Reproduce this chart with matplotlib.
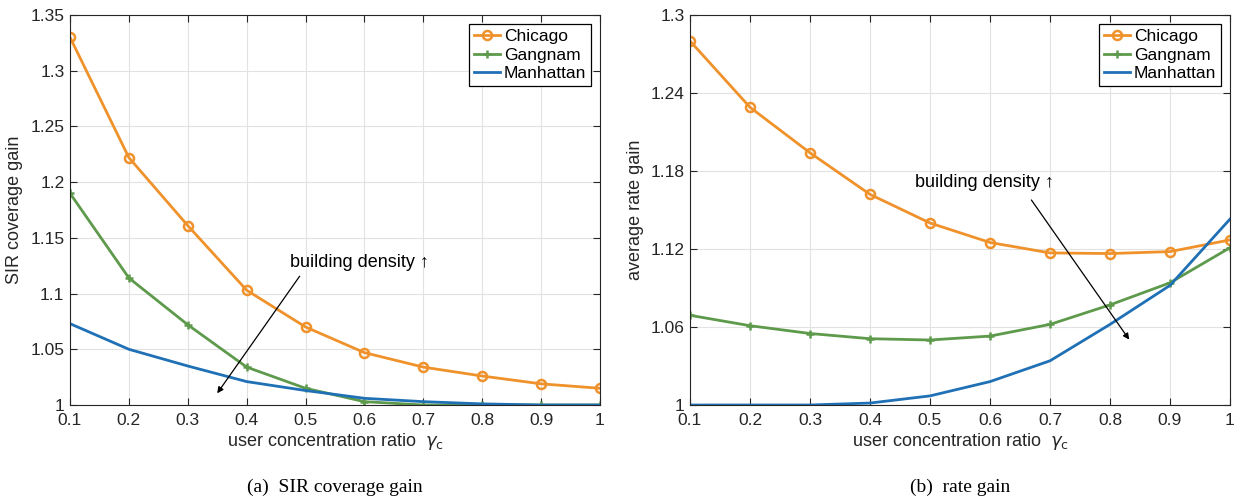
import numpy as np
import matplotlib
matplotlib.use("Agg")
import matplotlib.pyplot as plt

plt.rcParams['font.family'] = ['Liberation Sans', 'DejaVu Sans']

ratio = [0.1, 0.2, 0.3, 0.4, 0.5, 0.6, 0.7, 0.8, 0.9, 1.0]

# (a) SIR coverage gain
sir_chicago = [1.330, 1.222, 1.161, 1.103, 1.070, 1.047, 1.034, 1.026, 1.019, 1.015]
sir_gangnam = [1.190, 1.114, 1.072, 1.034, 1.015, 1.003, 1.000, 1.000, 1.000, 1.000]
sir_manhattan = [1.073, 1.050, 1.035, 1.021, 1.013, 1.006, 1.003, 1.001, 1.000, 1.000]

# (b) rate gain
rate_chicago = [1.280, 1.229, 1.194, 1.162, 1.140, 1.125, 1.117, 1.1165, 1.118, 1.127]
rate_gangnam = [1.069, 1.061, 1.055, 1.051, 1.050, 1.053, 1.062, 1.077, 1.094, 1.121]
rate_manhattan = [1.000, 1.000, 1.000, 1.0015, 1.007, 1.018, 1.034, 1.062, 1.092, 1.143]

sir_ticks = [1, 1.05, 1.1, 1.15, 1.2, 1.25, 1.3, 1.35]
sir_ticklabels = ['1', '1.05', '1.1', '1.15', '1.2', '1.25', '1.3', '1.35']
rate_ticks = [1, 1.06, 1.12, 1.18, 1.24, 1.3]
rate_ticklabels = ['1', '1.06', '1.12', '1.18', '1.24', '1.3']
x_ticklabels = ['0.1', '0.2', '0.3', '0.4', '0.5', '0.6', '0.7', '0.8', '0.9', '1']

c_orange = '#F0922B'
c_green = '#5E9A4C'
c_blue = '#1F70B5'

fig = plt.figure(figsize=(12.36, 4.98), dpi=100)
ax1 = fig.add_axes([70/1236, 1-405/498, 530/1236, 390/498])
ax2 = fig.add_axes([690/1236, 1-405/498, 540/1236, 390/498])


def style(ax, yticks, yticklabels, ylabel):
  ax.set_xlim(0.1, 1.0)
  ax.set_xticks(ratio)
  ax.set_xticklabels(x_ticklabels)
  ax.set_ylim(yticks[0], yticks[-1])
  ax.set_yticks(yticks)
  ax.set_yticklabels(yticklabels)
  ax.grid(True, color='#E2E2E2', linewidth=0.8)
  ax.set_axisbelow(True)
  ax.tick_params(direction='in', top=True, right=True, labelsize=12.5, colors='#262626', length=5)
  ax.tick_params(axis='x', pad=6)
  ax.tick_params(axis='y', pad=4)
  for s in ax.spines.values():
    s.set_color('#262626')
    s.set_linewidth(0.8)
  ax.set_xlabel(r'user concentration ratio  $\gamma_{\rm c}$', fontsize=13, color='#262626', labelpad=2)
  ax.set_ylabel(ylabel, fontsize=13, color='#262626', labelpad=5)
  leg = ax.legend(loc='upper right', fontsize=12.5, fancybox=False, edgecolor='black',
                  framealpha=1, handlelength=1.5, handletextpad=0.2, borderpad=0.3,
                  labelspacing=0.2, borderaxespad=0.5)
  leg.get_frame().set_linewidth(0.9)


def draw(ax, chicago, gangnam, manhattan):
  ax.plot(ratio, chicago, color=c_orange, lw=2, marker='o', ms=6.5, mfc='none', mew=1.8, label='Chicago')
  ax.plot(ratio, gangnam, color=c_green, lw=2, marker='+', ms=6, mew=1.8, label='Gangnam')
  ax.plot(ratio, manhattan, color=c_blue, lw=2, label='Manhattan')


arrow = dict(arrowstyle='-|>', color='black', lw=0.9, mutation_scale=9, shrinkA=0, shrinkB=0)

draw(ax1, sir_chicago, sir_gangnam, sir_manhattan)
style(ax1, sir_ticks, sir_ticklabels, 'SIR coverage gain')
ax1.annotate('', xy=(0.35, 1.0105), xytext=(0.49, 1.1156), arrowprops=arrow)
ax1.text(0.473, 1.1275, 'building density \u2191', fontsize=13, va='center', ha='left')

draw(ax2, rate_chicago, rate_gangnam, rate_manhattan)
style(ax2, rate_ticks, rate_ticklabels, 'average rate gain')
ax2.annotate('', xy=(0.832, 1.0503), xytext=(0.669, 1.1577), arrowprops=arrow)
ax2.text(0.475, 1.171, 'building density \u2191', fontsize=13, va='center', ha='left')

fig.text(335/1236, 1-487/498, '(a)  SIR coverage gain', family='Liberation Serif', fontsize=14, ha='center', va='center')
fig.text(960/1236, 1-487/498, '(b)  rate gain', family='Liberation Serif', fontsize=14, ha='center', va='center')

fig.savefig('out.png', dpi=100)
